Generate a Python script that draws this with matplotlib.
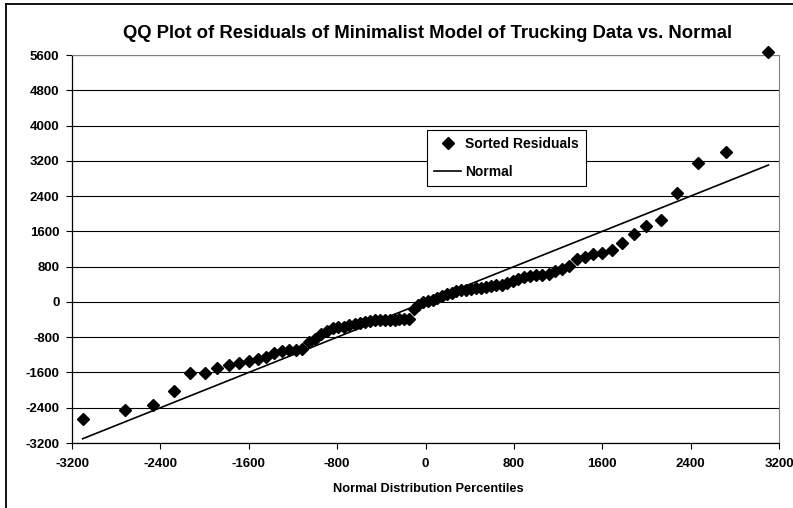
import matplotlib
matplotlib.use("Agg")
import matplotlib.pyplot as plt
from matplotlib.lines import Line2D


# normal distribution percentiles (x) for the 80 sorted residuals
percentiles = [-3104, -2716, -2468, -2281, -2129, -1999, -1884, -1781, -1687, -1600,
               -1519, -1443, -1372, -1303, -1238, -1175, -1115, -1057, -1000, -946,
               -892, -840, -789, -739, -691, -642, -595, -549, -503, -457,
               -412, -368, -324, -280, -236, -193, -150, -107, -64, -21,
               21, 64, 107, 150, 193, 236, 280, 324, 368, 412,
               457, 503, 549, 595, 642, 691, 739, 789, 840, 892,
               946, 1000, 1057, 1115, 1175, 1238, 1303, 1372, 1443, 1519,
               1600, 1687, 1781, 1884, 1999, 2129, 2281, 2468, 2716, 3104]

residuals = [-2667, -2456, -2328, -2020, -1614, -1605, -1510, -1440, -1380, -1330,
             -1288, -1252, -1170, -1120, -1100, -1090, -1060, -920, -830, -730,
             -650, -600, -580, -560, -530, -500, -480, -460, -440, -420,
             -410, -400, -400, -400, -395, -390, -385, -160, -60, 0,
             10, 40, 90, 140, 170, 200, 240, 260, 280, 295,
             305, 320, 335, 350, 375, 390, 440, 480, 515, 555,
             595, 610, 620, 635, 690, 740, 810, 980, 1010, 1090,
             1120, 1180, 1340, 1550, 1720, 1860, 2460, 3150, 3400, 5660]

# the "Normal" reference line is the percentiles against themselves
normal = list(percentiles)

x_ticks = list(range(-3200, 3201, 800))
y_ticks = list(range(-3200, 5601, 800))

TITLE = "QQ Plot of Residuals of Minimalist Model of Trucking Data vs. Normal"
XLABEL = "Normal Distribution Percentiles"

plt.rcParams["font.family"] = ["Liberation Sans", "DejaVu Sans"]
plt.rcParams["font.weight"] = "bold"
plt.rcParams["axes.unicode_minus"] = False

W, H = 793, 508
fig = plt.figure(figsize=(W / 100, H / 100), dpi=100)
ax = fig.add_axes([72 / W, 1 - 443 / H, (779 - 72) / W, (443 - 55) / H])

ax.set_xlim(-3200, 3200)
ax.set_ylim(-3200, 5600)
ax.set_xticks(x_ticks)
ax.set_yticks(y_ticks)
ax.yaxis.grid(True, color="black", linewidth=0.8)
ax.set_axisbelow(True)

ax.plot(percentiles, residuals, linestyle="none", marker="D", markersize=5.8,
        color="black", label="Sorted Residuals", clip_on=False, zorder=3)
ax.plot(percentiles, normal, color="black", linewidth=1.2, label="Normal", zorder=2)

for side in ("top", "right"):
    ax.spines[side].set_color("#808080")
for side in ("left", "bottom"):
    ax.spines[side].set_color("black")
    ax.spines[side].set_linewidth(0.9)

ax.tick_params(direction="out", length=4, width=0.8, labelsize=9.5, colors="black")
ax.tick_params(axis="y", pad=5)
ax.tick_params(axis="x", pad=7)
for lab in ax.get_xticklabels() + ax.get_yticklabels():
    lab.set_fontweight("bold")

leg = ax.legend(loc="upper left", bbox_to_anchor=(0.5017, 0.8067), borderaxespad=0,
                frameon=True, fancybox=False, edgecolor="black", framealpha=1,
                prop={"weight": "bold", "size": 10}, handlelength=2.0,
                handletextpad=0.25, borderpad=0.5, labelspacing=1.0)
leg.get_frame().set_linewidth(0.8)

fig.text(427.5 / W, 1 - 33 / H, TITLE, ha="center", va="center",
         fontsize=13.3, fontweight="bold")
fig.text(428 / W, 1 - 489 / H, XLABEL, ha="center", va="center",
         fontsize=9.2, fontweight="bold")

# chart border (left and top edges are visible in the crop)
fig.add_artist(Line2D([6 / W, 6 / W], [0, 1 - 4 / H], transform=fig.transFigure,
                      color="black", linewidth=1.3))
fig.add_artist(Line2D([6 / W, 1], [1 - 4 / H, 1 - 4 / H], transform=fig.transFigure,
                      color="black", linewidth=1.3))

fig.savefig("out.png", dpi=100)
